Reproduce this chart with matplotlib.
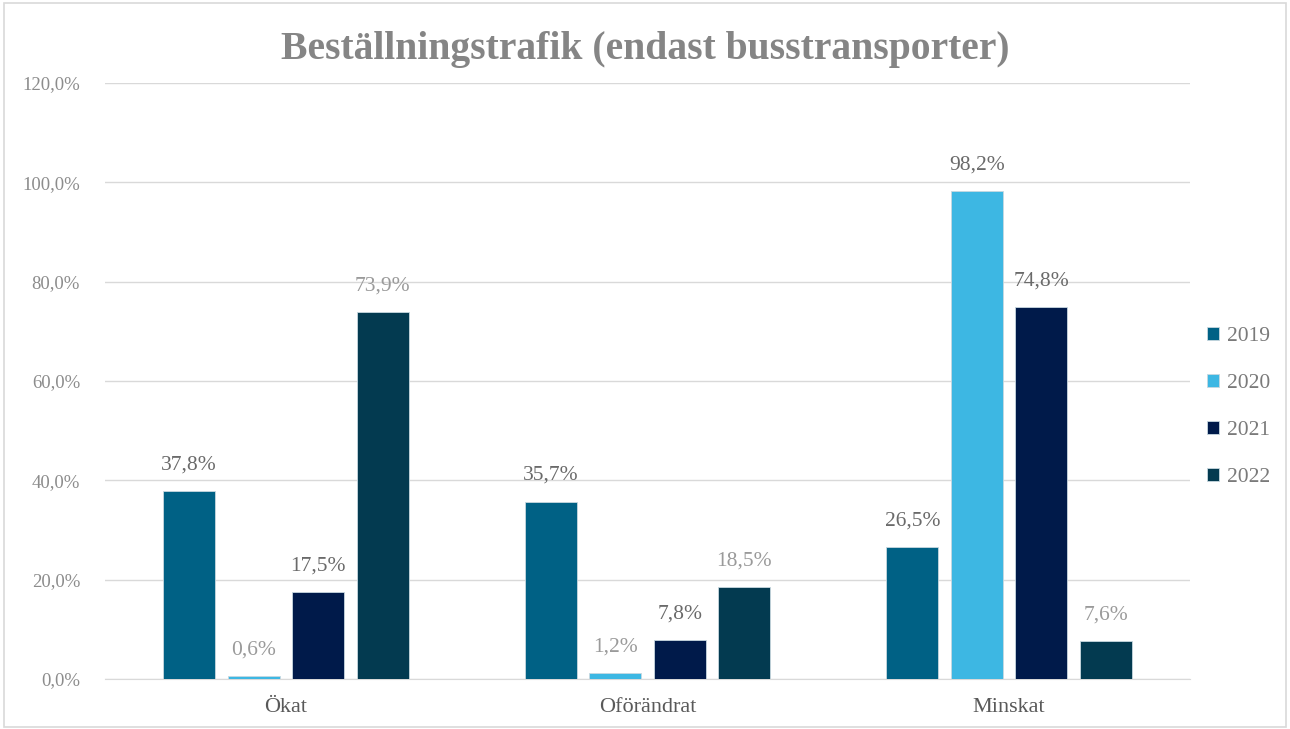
import matplotlib
matplotlib.use("Agg")
import matplotlib.pyplot as plt
import numpy as np
from matplotlib.patches import Rectangle

categories = ["Ökat", "Oförändrat", "Minskat"]
years = ["2019", "2020", "2021", "2022"]
v2019 = [37.8, 35.7, 26.5]
v2020 = [0.6, 1.2, 98.2]
v2021 = [17.5, 7.8, 74.8]
v2022 = [73.9, 18.5, 7.6]
series = [v2019, v2020, v2021, v2022]
colors = ["#006185", "#3DB7E3", "#001A4A", "#033A50"]
dark_labels = [[True, True, True], [False, False, True], [True, True, True], [False, False, False]]

plt.rcParams['font.family'] = ['Liberation Serif', 'DejaVu Serif']

fig = plt.figure(figsize=(12.9, 7.29), dpi=100)
ax = fig.add_axes([105/1290, 1 - 679/729, 1085/1290, (679-83)/729])

x = np.arange(len(categories))
step = 0.1785
width = 0.144
for i, (vals, c) in enumerate(zip(series, colors)):
    pos = x + (i - 1.5) * step
    ax.bar(pos, vals, width, color=c, edgecolor="#c8d8e0", linewidth=0.6,
           label=years[i], zorder=3)
    for j, (p, v) in enumerate(zip(pos, vals)):
        lab = f"{v:.1f}%".replace(".", ",")
        ax.text(p, v + 3.4, lab, ha="center", va="bottom", fontsize=15.5,
                color="#6a6a6a" if dark_labels[i][j] else "#9a9a9a")

ax.set_xlim(-0.5, 2.5)
ax.set_ylim(0, 120)
yt = np.arange(0, 121, 20)
ax.set_yticks(yt)
ax.set_yticklabels([f"{t:.1f}%".replace(".", ",") for t in yt], fontsize=13.5, color="#8c8c8c")
ax.set_xticks(x)
ax.set_xticklabels(categories, fontsize=16, color="#595959")
ax.tick_params(axis="y", length=0, pad=18)
ax.tick_params(axis="x", length=0, pad=14)
ax.grid(axis="y", color="#d9d9d9", linewidth=1, zorder=0)
for s in ["top", "right", "left"]:
    ax.spines[s].set_visible(False)
ax.spines["bottom"].set_color("#d9d9d9")

fig.text(0.5, 1 - 50/729, "Beställningstrafik (endast busstransporter)", ha="center", va="center",
         fontsize=28.5, fontweight="bold", color="#858585")

leg = ax.legend(loc="center left", frameon=False,
                fontsize=15.5, handlelength=0.55, handleheight=0.55, handletextpad=0.35,
                labelspacing=1.3, labelcolor="#7a7a7a")
leg.set_bbox_to_anchor((1188/1290, 1 - 407/729), transform=fig.transFigure)

fig.patches.append(Rectangle((4/1290, 2/729), 1282/1290, 724/729, transform=fig.transFigure,
                             fill=False, edgecolor="#d9d9d9", linewidth=1.2))

fig.savefig("out.png", dpi=100, facecolor="white")
